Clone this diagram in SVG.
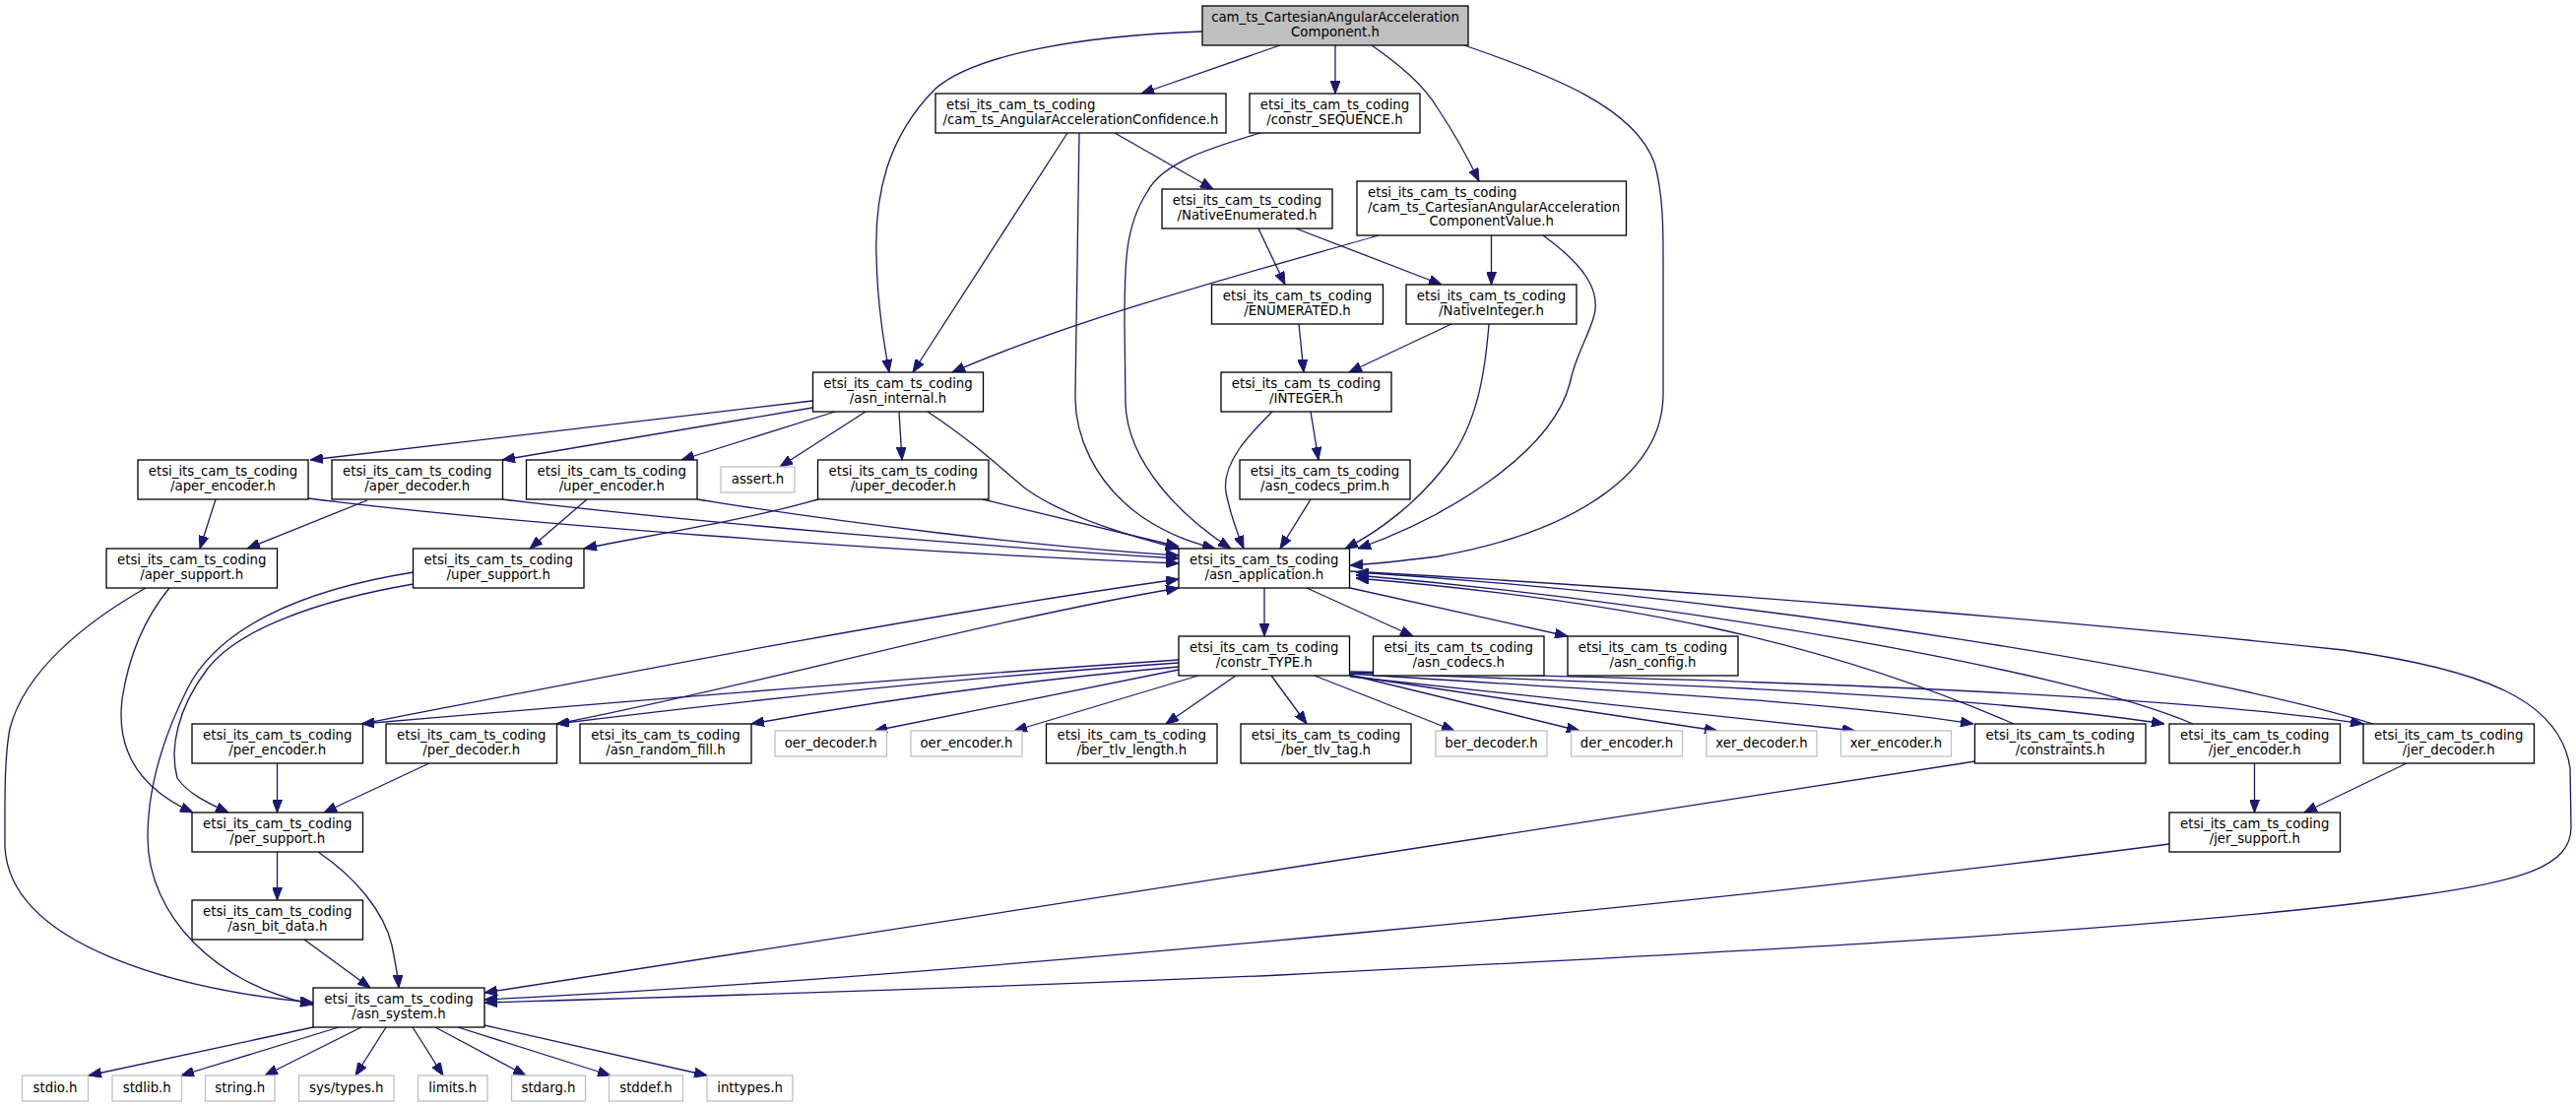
<svg xmlns="http://www.w3.org/2000/svg" width="2616" height="1124" viewBox="0 0 2616 1124">
<style>
text{font-family:"DejaVu Sans","Liberation Sans",sans-serif;font-size:13.3px;fill:#000;text-anchor:middle}
text.l{text-anchor:start}
.n rect{fill:#fff;stroke:#000;stroke-width:1.3}
.g rect{fill:#fff;stroke:#bfbfbf;stroke-width:1.3}
.r rect{fill:#bfbfbf;stroke:#000;stroke-width:1.3}
#edges path{fill:none;stroke:#191970;stroke-width:1.3;marker-end:url(#a)}
</style>
<defs>
<marker id="a" markerWidth="13" markerHeight="10" refX="13" refY="5" orient="auto" markerUnits="userSpaceOnUse">
<path d="M0,0 L13,5 L0,10 z" fill="#191970" stroke="#191970" stroke-width="1"/>
</marker>
</defs>
<rect width="2616" height="1124" fill="#fff"/>
<g id="edges">
<path d="M1221,32 C1100,36 990,55 950,90 C900,140 888,200 890,260 C891,310 898,350 903,378"/>
<path d="M1300,46 L1159,95"/>
<path d="M1356,46 L1356,95"/>
<path d="M1393,46 C1420,65 1445,85 1460,110 C1480,140 1493,165 1502,184"/>
<path d="M1487,46 C1580,78 1660,110 1680,165 C1690,200 1689,240 1689,280 L1689,400 C1689,480 1600,540 1460,565 C1420,570 1390,573 1371,574"/>
<path d="M1084,135 L927,378"/>
<path d="M1096,135 L1092,400 C1091,440 1110,490 1160,525 C1190,545 1215,552 1234,557"/>
<path d="M1132,135 L1232,192"/>
<path d="M1280,135 C1230,150 1180,165 1165,195 C1142,230 1142,270 1142,330 L1143,410 C1145,470 1200,525 1250,557"/>
<path d="M1278,232 L1305,289"/>
<path d="M1316,232 L1464,289"/>
<path d="M1400,239 C1300,268 1100,320 967,378"/>
<path d="M1514.5,239 L1514.5,289"/>
<path d="M1567,239 C1610,270 1625,295 1619,320 C1612,345 1600,360 1594,390 C1575,460 1470,525 1379,557"/>
<path d="M1319,329 L1324,378"/>
<path d="M1474,329 L1370,378"/>
<path d="M1512,329 C1508,380 1500,430 1470,470 C1440,510 1400,540 1366,557"/>
<path d="M1331,418 L1339,467"/>
<path d="M1292,418 C1270,440 1240,470 1245,500 C1250,525 1258,545 1263,557"/>
<path d="M1331,507 L1300,557"/>
<path d="M825,407 L315,467"/>
<path d="M825,414 L510,467"/>
<path d="M848,418 L692,467"/>
<path d="M879,418 L792,474"/>
<path d="M913,418 L916,467"/>
<path d="M942,418 C990,450 1010,470 1040,495 C1080,525 1150,545 1197,557"/>
<path d="M219,507 L203,557"/>
<path d="M313,506 C500,530 900,560 1197,572"/>
<path d="M373,508 L251,557"/>
<path d="M510,507 C700,530 1000,555 1197,567"/>
<path d="M596,507 L538,557"/>
<path d="M708,507 C850,530 1050,555 1197,564"/>
<path d="M831,507 C750,530 650,545 593,557"/>
<path d="M998,507 L1197,555"/>
<path d="M148,597 C90,630 25,680 10,740 C4,770 5,820 5,860 C10,960 180,1005 318,1018"/>
<path d="M172,597 C145,630 130,670 124,710 C118,760 140,800 196,825"/>
<path d="M420,581 C300,600 220,640 190,700 C165,750 150,800 150,850 C150,930 220,1000 318,1020"/>
<path d="M420,593 C320,610 240,640 210,680 C180,720 172,760 180,790 C190,805 210,815 232,825"/>
<path d="M281.5,775 L281.5,825"/>
<path d="M367,735 C600,690 900,630 1197,588"/>
<path d="M436,775 L329,825"/>
<path d="M565,735 C750,700 1000,630 1197,597"/>
<path d="M281.5,865 L281.5,914"/>
<path d="M323,865 C360,890 390,925 398,960 C402,980 404,990 405,1003"/>
<path d="M309,954 L376,1003"/>
<path d="M318,1043 L90,1092"/>
<path d="M344,1043 L184,1092"/>
<path d="M367,1043 L269,1092"/>
<path d="M392,1043 L361,1092"/>
<path d="M419,1043 L450,1092"/>
<path d="M442,1043 L534,1092"/>
<path d="M465,1043 L620,1092"/>
<path d="M492,1041 L718,1092"/>
<path d="M1284,597 L1284,646"/>
<path d="M1327,597 L1435,646"/>
<path d="M1371,597 L1592,646"/>
<path d="M1371,580 C1700,598 2100,630 2380,660 C2520,680 2600,710 2610,780 L2611,840 C2611,880 2560,895 2450,910 C2200,945 1700,970 1300,990 C1000,1003 700,1012 492,1018"/>
<path d="M1197,670 C900,690 600,715 367,735"/>
<path d="M1197,673 C950,690 750,712 565,735"/>
<path d="M1197,677 C1050,690 900,710 763,735"/>
<path d="M1197,680 L888,742"/>
<path d="M1217,686 L1030,742"/>
<path d="M1255,686 L1184,735"/>
<path d="M1291,686 L1327,735"/>
<path d="M1335,686 L1477,742"/>
<path d="M1370,685 L1604,742"/>
<path d="M1371,686 L1744,742"/>
<path d="M1371,687 L1884,742"/>
<path d="M1371,684 C1600,700 1850,710 2004,735"/>
<path d="M1371,683 C1700,695 2000,705 2198,735"/>
<path d="M1371,682 C1800,690 2200,705 2400,735"/>
<path d="M2045,735 C1850,650 1650,610 1377,587"/>
<path d="M2227,735 C2100,680 1700,612 1377,584"/>
<path d="M2410,735 C2250,685 1800,608 1377,581"/>
<path d="M2006,773 L492,1008"/>
<path d="M2203,857 C1800,910 1000,990 492,1015"/>
<path d="M2289.5,775 L2289.5,825"/>
<path d="M2444,775 L2340,825"/>
</g>
<g id="root" class="r"><rect x="1221" y="6" width="270" height="40"/><text x="1356" y="22">cam_ts_CartesianAngularAcceleration</text><text x="1356" y="37">Component.h</text></g>
<g id="conf" class="n"><rect x="950" y="95" width="295" height="40"/><text class="l" x="961" y="111">etsi_its_cam_ts_coding</text><text x="1097.5" y="126">/cam_ts_AngularAccelerationConfidence.h</text></g>
<g id="seq" class="n"><rect x="1269" y="95" width="173" height="40"/><text x="1355.5" y="111">etsi_its_cam_ts_coding</text><text x="1355.5" y="126">/constr_SEQUENCE.h</text></g>
<g id="cval" class="n"><rect x="1378" y="184" width="273.5" height="55"/><text class="l" x="1389" y="200">etsi_its_cam_ts_coding</text><text class="l" x="1389" y="214.5">/cam_ts_CartesianAngularAcceleration</text><text x="1514.75" y="229">ComponentValue.h</text></g>
<g id="nenum" class="n"><rect x="1180" y="192" width="173" height="40"/><text x="1266.5" y="208">etsi_its_cam_ts_coding</text><text x="1266.5" y="223">/NativeEnumerated.h</text></g>
<g id="enum" class="n"><rect x="1230.5" y="289" width="174" height="40"/><text x="1317.5" y="305">etsi_its_cam_ts_coding</text><text x="1317.5" y="320">/ENUMERATED.h</text></g>
<g id="nint" class="n"><rect x="1428" y="289" width="173" height="40"/><text x="1514.5" y="305">etsi_its_cam_ts_coding</text><text x="1514.5" y="320">/NativeInteger.h</text></g>
<g id="int" class="n"><rect x="1240" y="378" width="173" height="40"/><text x="1326.5" y="394">etsi_its_cam_ts_coding</text><text x="1326.5" y="409">/INTEGER.h</text></g>
<g id="prim" class="n"><rect x="1259" y="467" width="173" height="40"/><text x="1345.5" y="483">etsi_its_cam_ts_coding</text><text x="1345.5" y="498">/asn_codecs_prim.h</text></g>
<g id="intl" class="n"><rect x="825.5" y="378" width="173" height="40"/><text x="912" y="394">etsi_its_cam_ts_coding</text><text x="912" y="409">/asn_internal.h</text></g>
<g id="assert" class="g"><rect x="732" y="474" width="75" height="26"/><text x="769.5" y="491">assert.h</text></g>
<g id="uperdec" class="n"><rect x="830.5" y="467" width="173.5" height="40"/><text x="917.25" y="483">etsi_its_cam_ts_coding</text><text x="917.25" y="498">/uper_decoder.h</text></g>
<g id="aperenc" class="n"><rect x="140" y="467" width="173" height="40"/><text x="226.5" y="483">etsi_its_cam_ts_coding</text><text x="226.5" y="498">/aper_encoder.h</text></g>
<g id="aperdec" class="n"><rect x="337" y="467" width="173.5" height="40"/><text x="423.75" y="483">etsi_its_cam_ts_coding</text><text x="423.75" y="498">/aper_decoder.h</text></g>
<g id="uperenc" class="n"><rect x="534.5" y="467" width="173.5" height="40"/><text x="621.25" y="483">etsi_its_cam_ts_coding</text><text x="621.25" y="498">/uper_encoder.h</text></g>
<g id="apersup" class="n"><rect x="108" y="557" width="173.5" height="40"/><text x="194.75" y="573">etsi_its_cam_ts_coding</text><text x="194.75" y="588">/aper_support.h</text></g>
<g id="upersup" class="n"><rect x="419.5" y="557" width="173.5" height="40"/><text x="506.25" y="573">etsi_its_cam_ts_coding</text><text x="506.25" y="588">/uper_support.h</text></g>
<g id="app" class="n"><rect x="1197" y="557" width="173.5" height="40"/><text x="1283.75" y="573">etsi_its_cam_ts_coding</text><text x="1283.75" y="588">/asn_application.h</text></g>
<g id="type" class="n"><rect x="1197" y="646" width="173.5" height="40"/><text x="1283.75" y="662">etsi_its_cam_ts_coding</text><text x="1283.75" y="677">/constr_TYPE.h</text></g>
<g id="codecs" class="n"><rect x="1394.5" y="646" width="173.5" height="40"/><text x="1481.25" y="662">etsi_its_cam_ts_coding</text><text x="1481.25" y="677">/asn_codecs.h</text></g>
<g id="config" class="n"><rect x="1592" y="646" width="173" height="40"/><text x="1678.5" y="662">etsi_its_cam_ts_coding</text><text x="1678.5" y="677">/asn_config.h</text></g>
<g id="perenc" class="n"><rect x="195" y="735" width="173.5" height="40"/><text x="281.75" y="751">etsi_its_cam_ts_coding</text><text x="281.75" y="766">/per_encoder.h</text></g>
<g id="perdec" class="n"><rect x="392" y="735" width="173.5" height="40"/><text x="478.75" y="751">etsi_its_cam_ts_coding</text><text x="478.75" y="766">/per_decoder.h</text></g>
<g id="rand" class="n"><rect x="589" y="735" width="174" height="40"/><text x="676" y="751">etsi_its_cam_ts_coding</text><text x="676" y="766">/asn_random_fill.h</text></g>
<g id="oerdec" class="g"><rect x="787" y="742" width="113.5" height="26"/><text x="843.75" y="759">oer_decoder.h</text></g>
<g id="oerenc" class="g"><rect x="925" y="742" width="113" height="26"/><text x="981.5" y="759">oer_encoder.h</text></g>
<g id="bertl" class="n"><rect x="1062.5" y="735" width="173.5" height="40"/><text x="1149.25" y="751">etsi_its_cam_ts_coding</text><text x="1149.25" y="766">/ber_tlv_length.h</text></g>
<g id="bertag" class="n"><rect x="1260" y="735" width="173" height="40"/><text x="1346.5" y="751">etsi_its_cam_ts_coding</text><text x="1346.5" y="766">/ber_tlv_tag.h</text></g>
<g id="berdec" class="g"><rect x="1458" y="742" width="113" height="26"/><text x="1514.5" y="759">ber_decoder.h</text></g>
<g id="derenc" class="g"><rect x="1595.5" y="742" width="113" height="26"/><text x="1652" y="759">der_encoder.h</text></g>
<g id="xerdec" class="g"><rect x="1733" y="742" width="112" height="26"/><text x="1789" y="759">xer_decoder.h</text></g>
<g id="xerenc" class="g"><rect x="1869.5" y="742" width="112" height="26"/><text x="1925.5" y="759">xer_encoder.h</text></g>
<g id="cons" class="n"><rect x="2005.5" y="735" width="173.5" height="40"/><text x="2092.25" y="751">etsi_its_cam_ts_coding</text><text x="2092.25" y="766">/constraints.h</text></g>
<g id="jerenc" class="n"><rect x="2203" y="735" width="173.5" height="40"/><text x="2289.75" y="751">etsi_its_cam_ts_coding</text><text x="2289.75" y="766">/jer_encoder.h</text></g>
<g id="jerdec" class="n"><rect x="2400" y="735" width="173.5" height="40"/><text x="2486.75" y="751">etsi_its_cam_ts_coding</text><text x="2486.75" y="766">/jer_decoder.h</text></g>
<g id="jersup" class="n"><rect x="2203" y="825" width="173.5" height="40"/><text x="2289.75" y="841">etsi_its_cam_ts_coding</text><text x="2289.75" y="856">/jer_support.h</text></g>
<g id="persup" class="n"><rect x="195" y="825" width="173.5" height="40"/><text x="281.75" y="841">etsi_its_cam_ts_coding</text><text x="281.75" y="856">/per_support.h</text></g>
<g id="bitdata" class="n"><rect x="195" y="914" width="173.5" height="40"/><text x="281.75" y="930">etsi_its_cam_ts_coding</text><text x="281.75" y="945">/asn_bit_data.h</text></g>
<g id="system" class="n"><rect x="318" y="1003" width="174" height="40"/><text x="405" y="1019">etsi_its_cam_ts_coding</text><text x="405" y="1034">/asn_system.h</text></g>
<g id="stdio" class="g"><rect x="22.5" y="1092" width="67" height="26"/><text x="56" y="1109">stdio.h</text></g>
<g id="stdlib" class="g"><rect x="114" y="1092" width="70.5" height="26"/><text x="149.25" y="1109">stdlib.h</text></g>
<g id="string" class="g"><rect x="208.5" y="1092" width="70.5" height="26"/><text x="243.75" y="1109">string.h</text></g>
<g id="systypes" class="g"><rect x="303.5" y="1092" width="96.5" height="26"/><text x="351.75" y="1109">sys/types.h</text></g>
<g id="limits" class="g"><rect x="424.5" y="1092" width="70.5" height="26"/><text x="459.75" y="1109">limits.h</text></g>
<g id="stdarg" class="g"><rect x="519.5" y="1092" width="75" height="26"/><text x="557" y="1109">stdarg.h</text></g>
<g id="stddef" class="g"><rect x="618.5" y="1092" width="75" height="26"/><text x="656" y="1109">stddef.h</text></g>
<g id="inttypes" class="g"><rect x="718" y="1092" width="87" height="26"/><text x="761.5" y="1109">inttypes.h</text></g>
</svg>
